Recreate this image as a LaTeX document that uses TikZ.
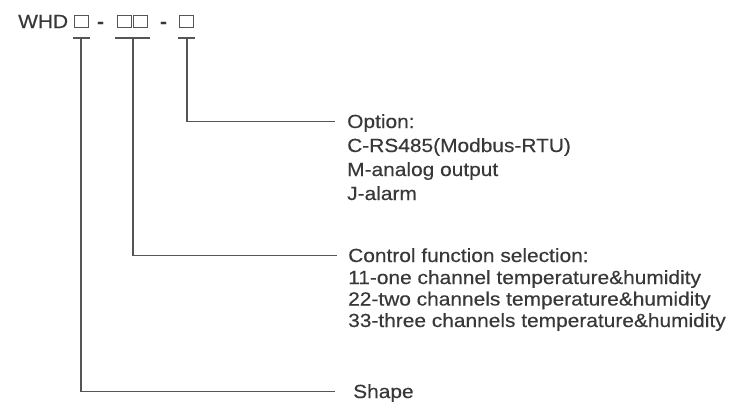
\documentclass[tikz,border=0pt]{standalone}
\usepackage{fontspec}
\setmainfont{Liberation Sans}[FakeStretch=1.1,FakeBold=0.35]
\definecolor{txtc}{HTML}{383838}
\definecolor{linec}{HTML}{555555}
\begin{document}
\begin{tikzpicture}[x=1pt,y=-1pt,
  txt/.style={inner sep=0pt, anchor=base west, text=txtc, font=\fontsize{19}{22}\selectfont},
  hy/.style={inner sep=0pt, anchor=base, text=txtc, font=\bfseries\fontsize{19}{22}\selectfont},
  codebox/.style={draw=linec, line width=1pt, minimum width=14pt, minimum height=12.5pt, inner sep=0pt},
  lead/.style={draw=linec, line width=1.3pt},
  bar/.style={draw=linec, line width=1.3pt}]
\useasboundingbox[fill=white] (0,0) rectangle (735,405);
% header code
\node[txt] (whd) at (18,28) {WHD};
\node[codebox] (b1) at (81.5,21.5) {};
\node[hy] (h1) at (100.5,28) {-};
\node[codebox] (b2a) at (124,21.5) {};
\node[codebox] (b2b) at (140.5,21.5) {};
\node[hy] (h2) at (163.5,28) {-};
\node[codebox] (b3) at (186.5,21.5) {};
% bars under the code fields
\draw[bar] (73,38) -- (90,38);
\draw[bar] (115,38) -- (150,38);
\draw[bar] (178,38) -- (195,38);
\coordinate (u1) at (81,38);
\coordinate (u2) at (133,38);
\coordinate (u3) at (187,38);
% option block
\node[txt] (opt) at (347,128) {Option:};
\node[txt] (opt1) at (347,152) {C-RS485(Modbus-RTU)};
\node[txt] (opt2) at (347,176) {M-analog output};
\node[txt] (opt3) at (347,200) {J-alarm};
% control block
\node[txt] (ctl) at (348,262) {Control function selection:};
\node[txt] (ctl1) at (348,284) {11-one channel temperature\&humidity};
\node[txt] (ctl2) at (348,305.5) {22-two channels temperature\&humidity};
\node[txt] (ctl3) at (348,327) {33-three channels temperature\&humidity};
% shape
\node[txt] (shp) at (353,398) {Shape};
% leaders
\draw[lead] (u3) |- ([xshift=-12pt,yshift=6.5pt]opt.base west);
\draw[lead] (u2) |- ([xshift=-11pt,yshift=6.5pt]ctl.base west);
\draw[lead] (u1) |- ([xshift=-18pt,yshift=6.5pt]shp.base west);
\end{tikzpicture}
\end{document}
